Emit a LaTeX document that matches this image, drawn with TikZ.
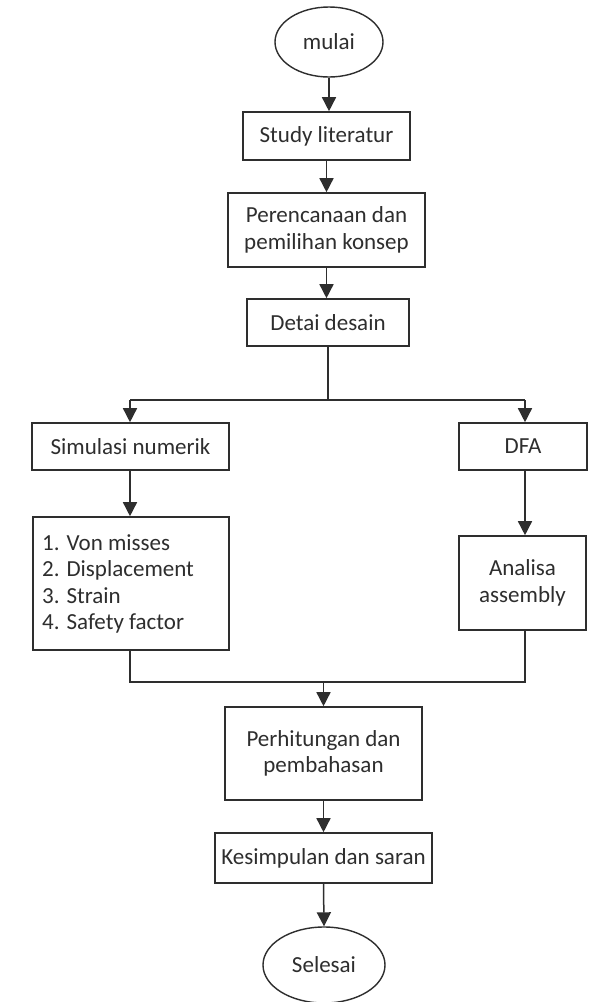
\documentclass[tikz,border=0pt]{standalone}
\usepackage{fontspec}
\setmainfont{Carlito}
\usetikzlibrary{shapes.geometric,arrows.meta}
\definecolor{ln}{HTML}{2E2E2E}
\definecolor{tx}{HTML}{2E2E2E}
\begin{document}
\begin{tikzpicture}[x=1pt,y=-1pt,
  every node/.style={font=\fontsize{23}{26.3}\selectfont, text=tx},
  boxst/.style={draw=ln, line width=1.6pt, fill=white, rectangle, inner sep=0pt, align=center},
  ovalst/.style={draw=ln, line width=1.4pt, fill=white, ellipse, inner sep=0pt},
  arr/.style={draw=ln, line width=1.5pt, -{Triangle[length=14pt,width=14pt]}},
  ln/.style={draw=ln, line width=1.5pt}]
\useasboundingbox (0,0) rectangle (593,1002);
\fill[white] (0,0) rectangle (593,1002);
\node[ovalst, minimum width=108pt, minimum height=70pt] (mulai) at (329,42) {mulai};
\node[boxst, minimum width=167pt, minimum height=48pt] (study) at (326.5,136) {Study literatur};
\node[boxst, minimum width=197pt, minimum height=74pt] (rencana) at (326.5,230) {Perencanaan dan\\pemilihan konsep};
\node[boxst, minimum width=162pt, minimum height=47pt] (detai) at (328,322.5) {Detai desain};
\node[boxst, minimum width=197pt, minimum height=47pt] (sim) at (130.5,446.5) {Simulasi numerik};
\node[boxst, minimum width=128pt, minimum height=47pt] (dfa) at (523,446.5) {DFA};
\node[boxst, minimum width=196pt, minimum height=133pt, align=left] (list) at (131,583.5) {};
\node[anchor=west, align=left, inner sep=0pt] (listtxt) at (42,584) {1. Von misses\\2. Displacement\\3. Strain\\4. Safety factor};
\node[boxst, minimum width=127pt, minimum height=94pt] (analisa) at (522.5,583) {Analisa\\assembly};
\node[boxst, minimum width=197pt, minimum height=93pt] (hitung) at (323.5,753.5) {Perhitungan dan\\pembahasan};
\node[boxst, minimum width=217pt, minimum height=50pt] (simpul) at (323.5,858) {Kesimpulan dan saran};
\node[ovalst, minimum width=122pt, minimum height=76pt] (selesai) at (324,965) {Selesai};
\coordinate (split) at (328,400);
\coordinate (splitL) at (130,400);
\coordinate (splitR) at (525,400);
\coordinate (mergeL) at (130,682);
\coordinate (mergeR) at (525,682);
\coordinate (mergeM) at (323.5,682);
\draw[arr] (mulai.south) -- (mulai.south |- study.north);
\draw[arr] (study.south) -- (study.south |- rencana.north);
\draw[arr] (rencana.south) -- (rencana.south |- detai.north);
\draw[ln] (detai.south) -- (split);
\draw[ln] (splitL) -- (splitR);
\draw[arr] (splitL) -- (splitL |- sim.north);
\draw[arr] (splitR) -- (splitR |- dfa.north);
\draw[arr] (sim.south -| splitL) -- (splitL |- list.north);
\draw[arr] (dfa.south -| splitR) -- (splitR |- analisa.north);
\draw[ln] (list.south -| mergeL) -- (mergeL) -- (mergeR) -- (analisa.south -| mergeR);
\draw[arr] (mergeM) -- (hitung.north);
\draw[arr] (hitung.south) -- (simpul.north);
\draw[arr] (simpul.south) -- (selesai.north);
\end{tikzpicture}
\end{document}
